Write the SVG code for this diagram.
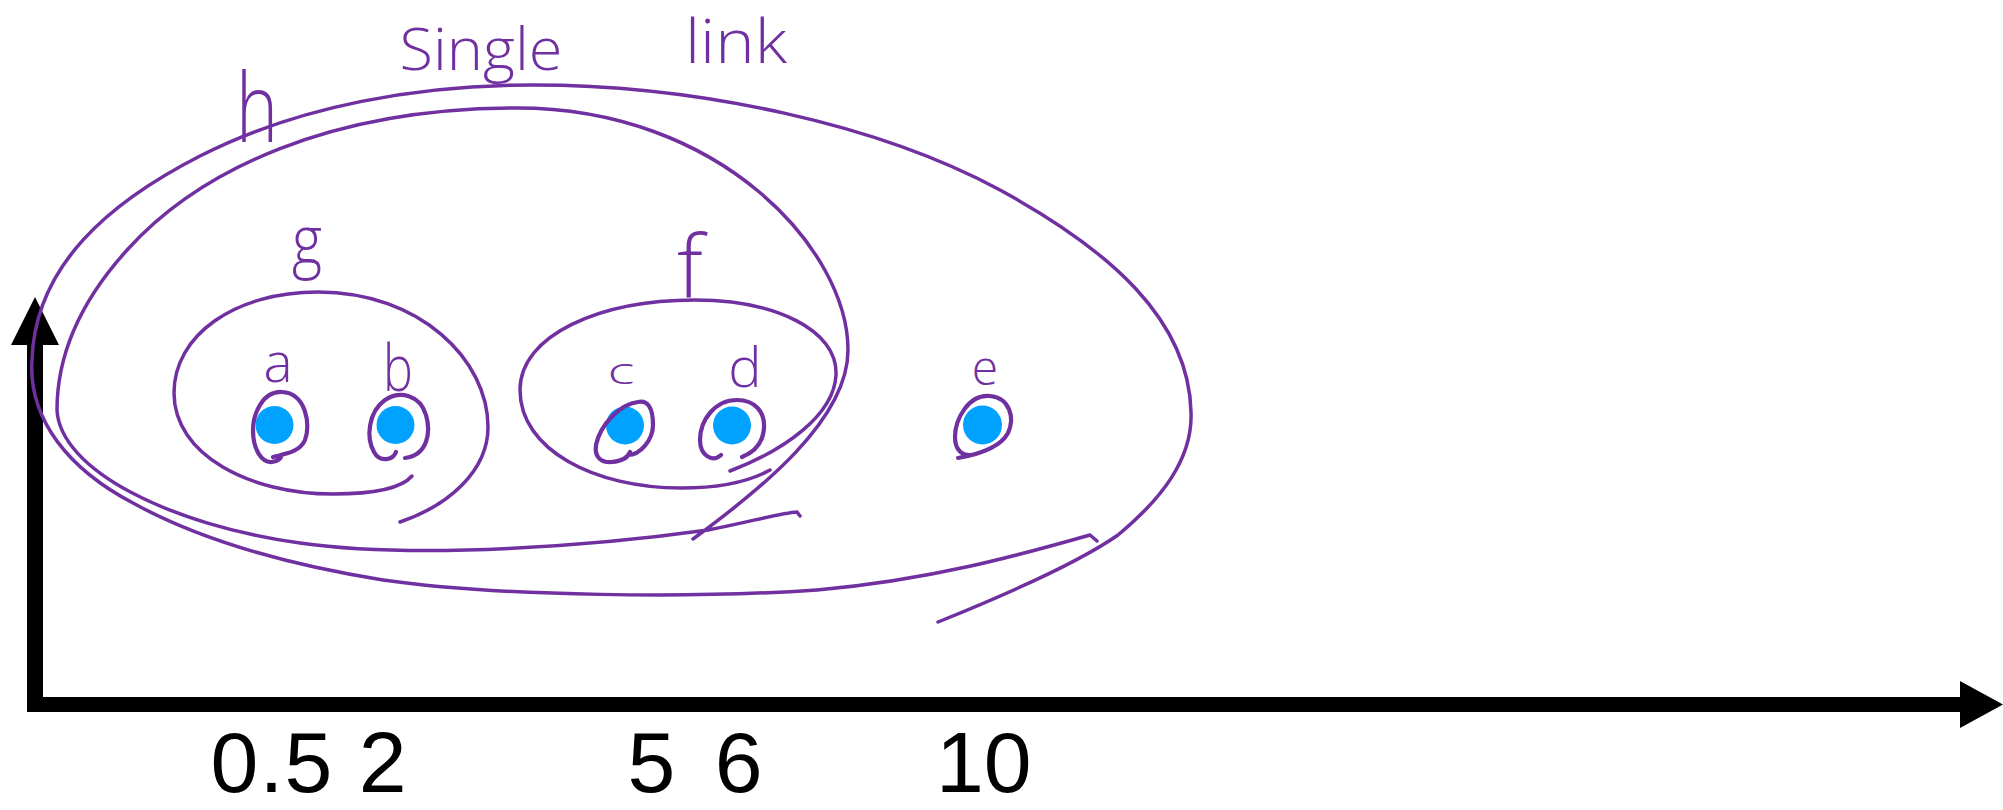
<svg xmlns="http://www.w3.org/2000/svg" width="2003" height="810" viewBox="0 0 2003 810">
<style>
.ink{fill:none;stroke:#7030A0;stroke-width:3.5;stroke-linecap:round;stroke-linejoin:round}
.loop{fill:none;stroke:#7030A0;stroke-width:4.2;stroke-linecap:round;stroke-linejoin:round}
.dot{fill:#00A2FF}
.hand{fill:#7030A0;font-family:"Open Sans","DejaVu Sans",sans-serif;font-weight:300;text-anchor:middle}
.num{fill:#000;font-family:"Liberation Sans",Arial,sans-serif;font-size:86px}
</style>
<rect width="2003" height="810" fill="#fff"/>

<g id="axes">
  <rect x="27" y="340" width="16" height="372"/>
  <polygon points="35,297 59,345 11,345"/>
  <rect x="32" y="697" width="1930" height="15"/>
  <polygon points="2003,704.5 1960,681 1960,728"/>
</g>

<g id="cluster-h">
  <path class="ink" stroke-width="4" d="M938 622 C1000 597 1075 565 1118 535 C1160 500 1193 460 1191 412 C1189 320 1110 250 1000 190 C880 125 700 85 533 85 C420 85 300 105 200 156 C110 202 35 265 32 360 C28 420 70 470 133 503 C200 540 290 565 383 580 C500 597 700 598 817 590 C930 580 1020 555 1090 535 L1097 541"/>
  <text class="hand" x="257" y="142" font-size="96" textLength="42" lengthAdjust="spacingAndGlyphs">h</text>
</g>

<g id="cluster-gf">
  <path class="ink" d="M693 539 C760 490 848 420 848 350 C848 250 720 108 517 108 C330 108 200 170 128 249 C85 296 57 350 57 410 C60 470 170 525 300 543 C420 560 600 545 708 530 C750 522 780 513 797 512 L800 516"/>
</g>

<g id="cluster-g">
  <path class="ink" d="M412 476 C400 490 370 494 333 494 C250 494 174 455 174 393 C174 335 235 292 318 292 C420 292 488 360 488 427 C488 470 450 505 400 522"/>
  <text class="hand" x="307" y="265" font-size="70" textLength="30" lengthAdjust="spacingAndGlyphs">g</text>
</g>

<g id="cluster-f">
  <path class="ink" d="M770 470 C745 484 715 488 681 488 C595 488 520 450 520 390 C520 335 600 300 695 300 C775 300 838 330 836 375 C834 415 785 450 730 471"/>
  <text class="hand" x="690" y="298" font-size="86">f</text>
</g>

<g id="node-a">
  <circle class="dot" cx="274.5" cy="425" r="19"/>
  <path class="loop" d="M273 457 C285 454 300 452 305 440 C311 425 306 393 282 392 C262 391 253 415 253 430 C253 450 262 463 272 462 C278 461 282 458 281 455"/>
  <text class="hand" x="278" y="382" font-size="55">a</text>
</g>

<g id="node-b">
  <circle class="dot" cx="395.5" cy="425" r="19"/>
  <path class="loop" d="M396 452 C393 460 380 463 374 452 C366 438 368 412 385 400 C400 390 420 395 426 415 C431 432 428 455 405 458"/>
  <text class="hand" x="398" y="391" font-size="64" textLength="30" lengthAdjust="spacingAndGlyphs">b</text>
</g>

<g id="node-c">
  <circle class="dot" cx="625" cy="425.5" r="19"/>
  <path class="loop" d="M628 455 C640 455 653 440 653 425 C653 408 648 400 638 402 C620 404 600 425 596 445 C594 458 602 463 612 462 C622 461 628 458 630 452"/>
  <text class="hand" x="621" y="384" font-size="36" textLength="27" lengthAdjust="spacingAndGlyphs">c</text>
</g>

<g id="node-d">
  <circle class="dot" cx="732" cy="425.5" r="19"/>
  <path class="loop" d="M721 455 C712 463 700 455 700 440 C700 420 715 400 737 400 C755 400 765 412 764 428 C763 442 755 452 742 457"/>
  <text class="hand" x="745" y="387" font-size="56">d</text>
</g>

<g id="node-e">
  <circle class="dot" cx="982.5" cy="425" r="19.5"/>
  <path class="loop" d="M958 458 C975 455 1000 448 1008 433 C1015 418 1010 398 990 396 C968 394 955 420 955 437 C955 450 962 456 972 455"/>
  <text class="hand" x="985" y="385" font-size="48">e</text>
</g>

<g id="title">
  <text class="hand" x="481" y="70" font-size="58" textLength="163" lengthAdjust="spacingAndGlyphs">Single</text>
  <text class="hand" x="736" y="63" font-size="60" textLength="102" lengthAdjust="spacingAndGlyphs">link</text>
</g>

<g id="connectors"></g>

<g id="axis-labels">
  <text class="num" x="210.5" y="792" textLength="196" lengthAdjust="spacing">0.5 2</text>
  <text class="num" x="627.5" y="792" textLength="135" lengthAdjust="spacing">5 6</text>
  <text class="num" x="936" y="792">10</text>
</g>
</svg>
